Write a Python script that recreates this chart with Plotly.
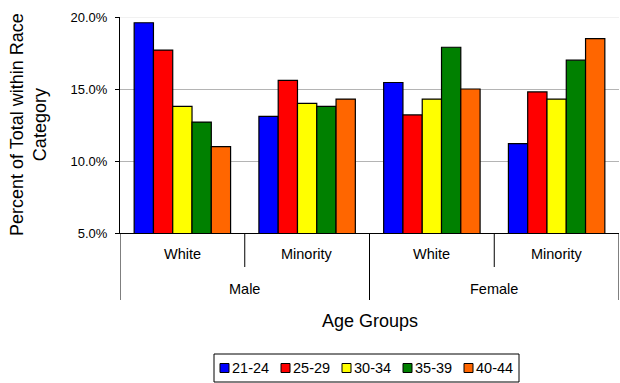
import plotly.graph_objects as go

# Grouping: sex (outer level) and race category (inner level)
sex = ["Male", "Male", "Female", "Female"]
race = ["White", "Minority", "White", "Minority"]
groups = [f"{s} {r}" for s, r in zip(sex, race)]

age_groups = ["21-24", "25-29", "30-34", "35-39", "40-44"]
colors = ["#0000FF", "#FF0000", "#FFFF00", "#008000", "#FF6600"]

# Percent of total within race category, by age group
pct_21_24 = [19.6, 13.1, 15.45, 11.2]
pct_25_29 = [17.7, 15.6, 13.2, 14.8]
pct_30_34 = [13.8, 14.0, 14.3, 14.3]
pct_35_39 = [12.7, 13.8, 17.9, 17.0]
pct_40_44 = [11.0, 14.3, 15.0, 18.5]
series = [pct_21_24, pct_25_29, pct_30_34, pct_35_39, pct_40_44]

y_ticks = [5, 10, 15, 20]
y_ticktext = [f"{v:.1f}%" for v in y_ticks]

FONT = "Liberation Sans, Arial, sans-serif"
W, H = 620, 383
ML, MR, MT, MB = 120, 1, 17, 150
PW, PH = W - ML - MR, H - MT - MB


def px_x(p):
    """Page pixel column -> paper x."""
    return (p - ML) / PW


def px_y(p):
    """Page pixel row -> paper y."""
    return (H - MB - p) / PH


fig = go.Figure()
for name, vals, col in zip(age_groups, series, colors):
    fig.add_trace(go.Bar(
        x=groups, y=vals, name=name, showlegend=False,
        marker=dict(color=col, line=dict(color="black", width=1.2)),
    ))

shapes = []
annotations = []

# Faint top gridline
shapes.append(dict(type="line", xref="paper", yref="y", x0=0, x1=1,
                   y0=y_ticks[-1], y1=y_ticks[-1], layer="between",
                   line=dict(color="#ececec", width=1.5)))

# Category boundaries below the x axis: short between races, long between sexes
n = len(groups)
for k in range(n + 1):
    pos = k - 0.5
    outer = k == 0 or k == n or sex[k - 1] != sex[k]
    depth = 67 if outer else 34
    shapes.append(dict(type="line", xref="x", yref="paper", x0=pos, x1=pos,
                       y0=0, y1=-depth / PH, line=dict(color="black", width=1)))

# Inner labels (race)
for k, r in enumerate(race):
    annotations.append(dict(x=k, y=0, xref="x", yref="paper", text=r,
                            showarrow=False, yanchor="middle", yshift=-21,
                            font=dict(size=14.5)))

# Outer labels (sex), centred over their categories
seen = []
for s in sex:
    if s not in seen:
        seen.append(s)
for s in seen:
    idx = [k for k, v in enumerate(sex) if v == s]
    annotations.append(dict(x=sum(idx) / len(idx), y=0, xref="x", yref="paper",
                            text=s, showarrow=False, yanchor="middle",
                            yshift=-56, font=dict(size=14.5)))

# Axis titles
annotations.append(dict(x=0.5, y=px_y(321), xref="paper", yref="paper",
                        text="Age Groups", showarrow=False, yanchor="middle",
                        font=dict(size=18)))
annotations.append(dict(x=px_x(28), y=0.5, xref="paper", yref="paper",
                        text="Percent of Total within Race<br>Category",
                        textangle=-90, showarrow=False, xanchor="center",
                        yanchor="middle", font=dict(size=18)))

# Legend box with colour keys
shapes.append(dict(type="rect", xref="paper", yref="paper",
                   x0=px_x(214), x1=px_x(519), y0=px_y(382), y1=px_y(354),
                   line=dict(color="black", width=1), fillcolor="white"))
for i, (name, col) in enumerate(zip(age_groups, colors)):
    x0 = 220 + 61 * i
    shapes.append(dict(type="rect", xref="paper", yref="paper",
                       x0=px_x(x0), x1=px_x(x0 + 9), y0=px_y(372.5),
                       y1=px_y(363.5), fillcolor=col,
                       line=dict(color="black", width=1)))
    annotations.append(dict(x=px_x(x0 + 10), y=px_y(368), xref="paper",
                            yref="paper", text=name, showarrow=False,
                            xanchor="left", yanchor="middle",
                            font=dict(size=14.5)))

fig.update_layout(
    width=W, height=H,
    margin=dict(l=ML, r=MR, t=MT, b=MB, autoexpand=False),
    paper_bgcolor="white", plot_bgcolor="white",
    barmode="group", bargap=0.227, bargroupgap=0,
    font=dict(family=FONT, size=13, color="black"),
    showlegend=False,
    shapes=shapes, annotations=annotations,
    xaxis=dict(
        type="category", range=[-0.5, n - 0.5], automargin=False,
        showline=True, linecolor="black", linewidth=1,
        showticklabels=False, ticks="", showgrid=False,
    ),
    yaxis=dict(
        range=[y_ticks[0], y_ticks[-1]], tickvals=y_ticks, ticktext=y_ticktext,
        automargin=False,
        showline=True, linecolor="black", linewidth=1,
        ticks="outside", ticklen=4, tickcolor="black",
        ticklabelstandoff=5,
        showgrid=True, gridcolor="#b4b4b4", gridwidth=1,
        zeroline=False,
        tickfont=dict(size=13),
    ),
)

fig.write_html("out.html")
